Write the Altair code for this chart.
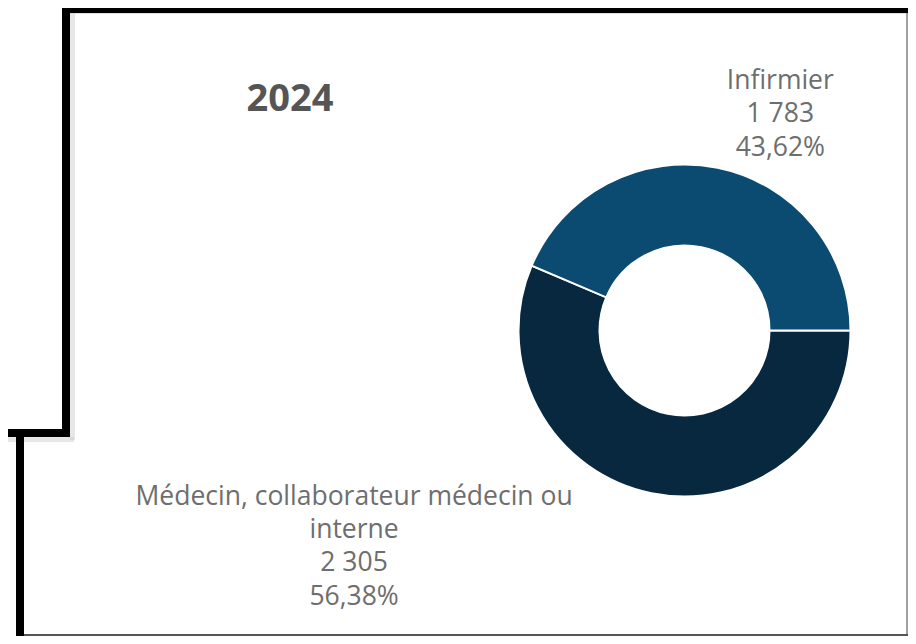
import math
import altair as alt
import pandas as pd

# ---- data ----
categories = ["Médecin, collaborateur médecin ou interne", "Infirmier"]
display_names = ["Médecin, collaborateur médecin ou|interne", "Infirmier"]
values = [2305, 1783]
colors = ["#08283F", "#0B4A71"]
year_title = "2024"

df = pd.DataFrame({
    "category": categories,
    "display": display_names,
    "value": values,
    "ord": list(range(len(categories))),
})

CX, CY = 676.5, 322.5          # donut centre (view px)
START = math.pi / 2            # first slice starts at 3 o'clock

base = alt.Chart(df).transform_joinaggregate(
    total="sum(value)"
).transform_calculate(
    label="datum.display + '|' + replace(format(datum.value, ','), ',', ' ') + '|' + "
          "replace(format(datum.value / datum.total, '.2%'), '.', ',')"
)

theta = alt.Theta("value:Q", stack=True,
                  scale=alt.Scale(range=[START, START + 2 * math.pi]))
order = alt.Order("ord:Q", sort="ascending")

arc = base.mark_arc(innerRadius=85, outerRadius=166, stroke="white", strokeWidth=2).encode(
    theta=theta,
    color=alt.Color("category:N", scale=alt.Scale(domain=categories, range=colors), legend=None),
    order=order,
    x=alt.value(CX), y=alt.value(CY),
)

text_style = dict(align="center", baseline="top", lineBreak="|", font="Open Sans",
                  fontSize=26.5, lineHeight=33.3, color="#6e6e6e", radius=230)

lab_inf = base.mark_text(dx=50, dy=-37, **text_style).encode(
    theta=theta, order=order,
    text=alt.condition("datum.category == 'Infirmier'", alt.Text("label:N"), alt.value("")),
    x=alt.value(CX), y=alt.value(CY),
)
lab_med = base.mark_text(dx=-284.6, dy=-72, **text_style).encode(
    theta=theta, order=order,
    text=alt.condition("datum.category != 'Infirmier'", alt.Text("label:N"), alt.value("")),
    x=alt.value(CX), y=alt.value(CY),
)

one = alt.Data(values=[{"t": year_title}])
title = alt.Chart(one).mark_text(font="Open Sans", fontSize=38, fontWeight="bold",
                                 color="#555555", align="center", baseline="alphabetic").encode(
    text="t:N", x=alt.value(282), y=alt.value(103)
)

def rule(x, x2, y, y2, color="black", w=8, op=1.0):
    return alt.Chart(alt.Data(values=[{}])).mark_rule(color=color, strokeWidth=w, opacity=op).encode(
        x=alt.value(x), x2=alt.value(x2), y=alt.value(y), y2=alt.value(y2)
    )

frames = [
    # soft shadows of the overlapping panel
    rule(64.5, 64.5, 0, 432, color="#bbbbbb", w=5, op=0.35),
    rule(0, 66, 431.5, 431.5, color="#bbbbbb", w=5, op=0.35),
    rule(54, 900, 5.5, 5.5, color="#cccccc", w=1, op=0.6),
    # frame lines
    rule(54, 900, 1, 1),
    rule(58, 58, 0, 429),
    rule(0, 62, 425, 425),
    rule(12, 12, 425, 628),
    rule(899, 899, 5, 628, color="#a0a0a0", w=2),
    rule(16, 900, 627, 627, color="#555555", w=2),
]

chart = alt.layer(arc, lab_inf, lab_med, title, *frames).properties(
    width=900, height=628, padding=0, autosize="none"
).configure_view(stroke=None)

chart.save("out.html", embed_options={"renderer": "svg", "actions": False})
